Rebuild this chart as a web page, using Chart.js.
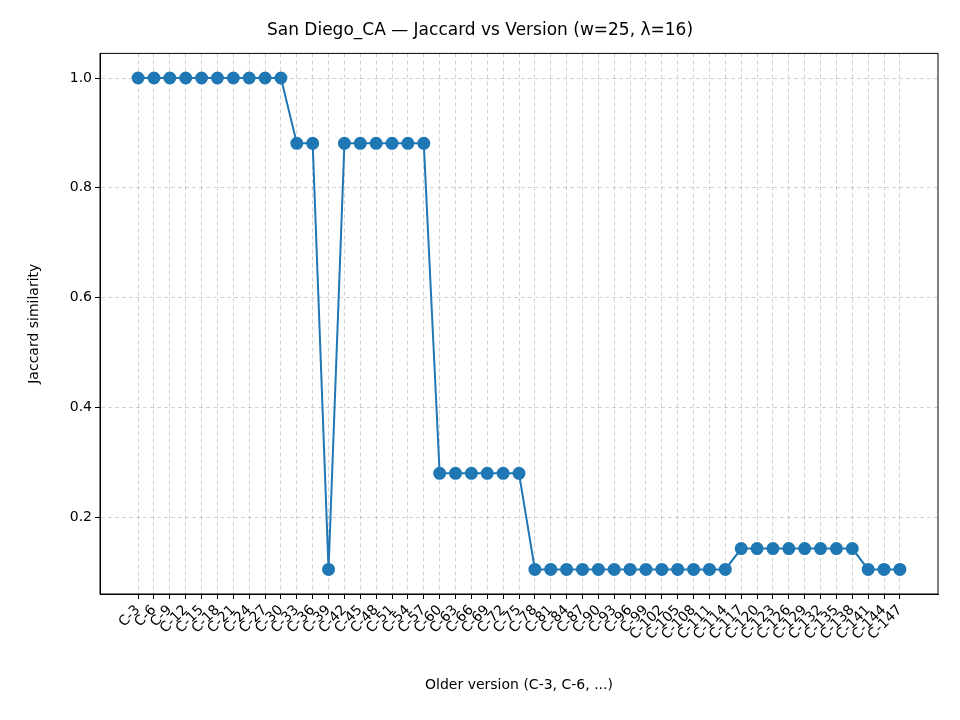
<!DOCTYPE html>
<html><head><meta charset="utf-8">
<script src="https://cdn.jsdelivr.net/npm/chart.js@4"></script>
<style>html,body{margin:0;padding:0;background:#fff}#w{width:960px;height:720px}</style>
</head><body><div id="w"><canvas id="c"></canvas></div>
<script>
const labels = [];
for (let k = 3; k <= 147; k += 3) labels.push('C-' + k);
const jaccard = [
 1,1,1,1,1,1,1,1,1,1,
 0.881,0.881,
 0.105,
 0.881,0.881,0.881,0.881,0.881,0.881,
 0.28,0.28,0.28,0.28,0.28,0.28,
 0.105,0.105,0.105,0.105,0.105,0.105,0.105,0.105,0.105,0.105,0.105,0.105,0.105,
 0.143,0.143,0.143,0.143,0.143,0.143,0.143,0.143,
 0.105,0.105,0.105
];
const yTicks = [0.2,0.4,0.6,0.8,1.0];
const font = {family:'DejaVu Sans', size:14};
Chart.defaults.color = '#000';
new Chart(document.getElementById('c'), {
  type:'line',
  data:{datasets:[{data:jaccard.map((v,i)=>({x:i,y:v})),borderColor:'#1f77b4',backgroundColor:'#1f77b4',
    borderWidth:2,pointRadius:5.5,pointHoverRadius:5.5,tension:0}]},
  options:{
    responsive:true,maintainAspectRatio:false,animation:false,
    layout:{padding:{left:22,right:22,top:10,bottom:22}},
    plugins:{legend:{display:false},tooltip:{enabled:false},
      title:{display:true,text:'San Diego_CA — Jaccard vs Version (w=25, λ=16)',font:{family:'DejaVu Sans',size:17,weight:'normal'},color:'#000',padding:{top:10,bottom:13}}},
    scales:{
      x:{type:'linear',min:-2.4,max:50.4,
        afterBuildTicks:s=>{s.ticks=labels.map((l,i)=>({value:i}));},
        afterFit:s=>{s.height=104;},
        ticks:{font,autoSkip:false,maxRotation:45,minRotation:45,callback:(v)=>labels[v]},
        grid:{color:'rgba(0,0,0,0.18)',tickColor:'#000',tickLength:5,drawTicks:true},
        border:{color:'#000',dash:[4,3]},
        title:{display:true,text:'Older version (C-3, C-6, ...)',font,padding:{top:4}}},
      y:{min:0.0603,max:1.0448,
        afterBuildTicks:s=>{s.ticks=yTicks.map(v=>({value:v}));},
        afterFit:s=>{s.width=78;},
        ticks:{font,callback:v=>v.toFixed(1)},
        grid:{color:'rgba(0,0,0,0.18)',tickColor:'#000',tickLength:5},
        border:{color:'#000',dash:[4,3]},
        title:{display:true,text:'Jaccard similarity',font}}
    }
  },
  plugins:[{id:'frame',afterDraw(c){const a=c.chartArea,x=c.ctx;x.save();x.strokeStyle='#000';x.lineWidth=1;x.setLineDash([]);x.strokeRect(a.left,a.top,a.right-a.left,a.bottom-a.top);x.restore();}}]
});
</script></body></html>
